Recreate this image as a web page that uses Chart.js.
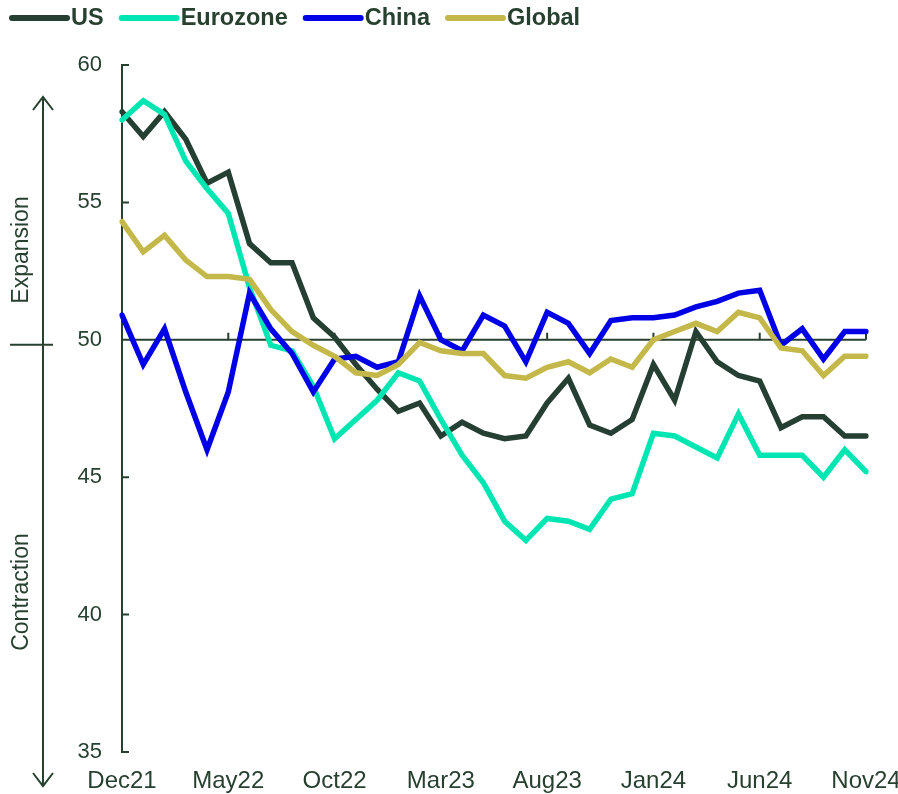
<!DOCTYPE html>
<html lang="en">
<head>
  <meta charset="UTF-8"/>
  <title>PMI – US, Eurozone, China, Global</title>
  <script src="https://cdn.jsdelivr.net/npm/chart.js"></script>
  <style>
    html, body { margin: 0; padding: 0; background: #fff; }
    .wrap { width: 898px; height: 794px; }
  </style>
</head>
<body>
  <div class="wrap"><canvas id="pmiChart" width="898" height="794"></canvas></div>
  <script>
    const months = [
      "Dec21", "Jan22", "Feb22", "Mar22", "Apr22", "May22", "Jun22", "Jul22", "Aug22", "Sep22", "Oct22", "Nov22",
      "Dec22", "Jan23", "Feb23", "Mar23", "Apr23", "May23", "Jun23", "Jul23", "Aug23", "Sep23", "Oct23", "Nov23",
      "Dec23", "Jan24", "Feb24", "Mar24", "Apr24", "May24", "Jun24", "Jul24", "Aug24", "Sep24", "Oct24", "Nov24"
    ];
    const usPmi = [58.3, 57.4, 58.3, 57.3, 55.7, 56.1, 53.5, 52.8, 52.8, 50.8, 50.1, 49.1,
                   48.2, 47.4, 47.7, 46.5, 47.0, 46.6, 46.4, 46.5, 47.7, 48.6, 46.9, 46.6,
                   47.1, 49.1, 47.8, 50.3, 49.2, 48.7, 48.5, 46.8, 47.2, 47.2, 46.5, 46.5];
    const eurozonePmi = [58.0, 58.7, 58.2, 56.5, 55.5, 54.6, 51.9, 49.8, 49.6, 48.3, 46.4, 47.1,
                         47.8, 48.8, 48.5, 47.1, 45.8, 44.8, 43.4, 42.7, 43.5, 43.4, 43.1, 44.2,
                         44.4, 46.6, 46.5, 46.1, 45.7, 47.3, 45.8, 45.8, 45.8, 45.0, 46.0, 45.2];
    const chinaPmi = [50.9, 49.1, 50.4, 48.1, 46.0, 48.1, 51.7, 50.4, 49.5, 48.1, 49.3, 49.4,
                      49.0, 49.2, 51.6, 50.0, 49.6, 50.9, 50.5, 49.2, 51.0, 50.6, 49.5, 50.7,
                      50.8, 50.8, 50.9, 51.2, 51.4, 51.7, 51.8, 49.8, 50.4, 49.3, 50.3, 50.3];
    const globalPmi = [54.3, 53.2, 53.8, 52.9, 52.3, 52.3, 52.2, 51.1, 50.3, 49.8, 49.4, 48.8,
                       48.7, 49.1, 49.9, 49.6, 49.5, 49.5, 48.7, 48.6, 49.0, 49.2, 48.8, 49.3,
                       49.0, 50.0, 50.3, 50.6, 50.3, 51.0, 50.8, 49.7, 49.6, 48.7, 49.4, 49.4];
    const yTicks = [35, 40, 45, 50, 55, 60];

    const INK = "#27402f";

    // axis at 50, tick marks, left arrow and the legend
    const decor = {
      id: "decor",
      beforeDatasetsDraw(chart) {
        const { ctx, chartArea: a, scales: { x, y } } = chart;
        const y50 = y.getPixelForValue(50);
        ctx.save();
        ctx.strokeStyle = INK;
        ctx.lineWidth = 2;
        ctx.beginPath();
        ctx.moveTo(a.left, y50);
        ctx.lineTo(a.right, y50);
        months.forEach((m, i) => {
          if (i > 0 && i % 5 === 0) {
            const px = x.getPixelForValue(i);
            ctx.moveTo(px, y50);
            ctx.lineTo(px, y50 - 7);
          }
        });
        yTicks.forEach(v => {
          const py = y.getPixelForValue(v);
          ctx.moveTo(a.left, py);
          ctx.lineTo(a.left + 7, py);
        });
        ctx.stroke();
        ctx.restore();
      },
      afterDraw(chart) {
        const { ctx, scales: { y } } = chart;
        const y50 = y.getPixelForValue(50);
        ctx.save();
        ctx.strokeStyle = INK;
        ctx.lineWidth = 2;
        ctx.beginPath();
        ctx.moveTo(43, 97); ctx.lineTo(43, 786);
        ctx.moveTo(33, 110); ctx.lineTo(43, 97); ctx.lineTo(53, 110);
        ctx.moveTo(33, 773); ctx.lineTo(43, 786); ctx.lineTo(53, 773);
        ctx.moveTo(10, y50 + 5); ctx.lineTo(53, y50 + 5);
        ctx.stroke();

        ctx.fillStyle = INK;
        ctx.font = '23px "Liberation Sans Narrow", "Liberation Sans", Arial, sans-serif';
        ctx.textAlign = "center";
        ctx.textBaseline = "middle";
        [["Expansion", 250], ["Contraction", 592]].forEach(([t, cy]) => {
          ctx.save();
          ctx.translate(22, cy);
          ctx.rotate(-Math.PI / 2);
          ctx.fillText(t, 0, 0);
          ctx.restore();
        });

        // legend
        ctx.font = 'bold 23.5px "Liberation Sans", Arial, sans-serif';
        ctx.textAlign = "left";
        let lx = 12;
        const ly = 18;
        chart.data.datasets.forEach(ds => {
          ctx.strokeStyle = ds.borderColor;
          ctx.lineWidth = 6;
          ctx.lineCap = "round";
          ctx.beginPath();
          ctx.moveTo(lx, ly);
          ctx.lineTo(lx + 55, ly);
          ctx.stroke();
          ctx.fillStyle = INK;
          ctx.fillText(ds.label, lx + 59, ly + 1);
          lx += 59 + ctx.measureText(ds.label).width + 18;
        });
        ctx.restore();
      }
    };

    const line = (label, data, color, order) => ({
      label, data, order,
      borderColor: color,
      backgroundColor: color,
      borderWidth: 5.5,
      pointRadius: 0,
      tension: 0,
      borderCapStyle: "round",
      fill: false
    });

    new Chart(document.getElementById("pmiChart"), {
      type: "line",
      data: {
        labels: months,
        datasets: [
          line("US", usPmi, "#263f33", 3),
          line("Eurozone", eurozonePmi, "#00e6b2", 2),
          line("China", chinaPmi, "#0000e6", 1),
          line("Global", globalPmi, "#c4b84b", 0)
        ]
      },
      options: {
        responsive: false,
        animation: false,
        layout: { padding: { top: 65, right: 32, left: 0, bottom: 0 } },
        plugins: {
          legend: { display: false },
          tooltip: { enabled: false }
        },
        scales: {
          x: {
            grid: { display: false, drawTicks: false },
            border: { display: false },
            afterFit(scale) {
              scale.height = 42;
              scale.paddingLeft = 0;
              scale.paddingRight = 0;
            },
            ticks: {
              autoSkip: false,
              maxRotation: 0,
              padding: 15,
              color: INK,
              font: { family: '"Liberation Sans Narrow", "Liberation Sans", Arial', size: 24 },
              callback: (v, i) => (i % 5 === 0 ? months[i] : "")
            }
          },
          y: {
            min: 35,
            max: 60,
            grid: { display: false, drawTicks: false },
            border: { display: true, color: INK, width: 2 },
            afterFit(scale) { scale.width = 122; },
            ticks: {
              stepSize: 5,
              padding: 20,
              color: INK,
              font: { family: '"Liberation Sans", Arial', size: 22 }
            }
          }
        }
      },
      plugins: [decor]
    });
  </script>
</body>
</html>
